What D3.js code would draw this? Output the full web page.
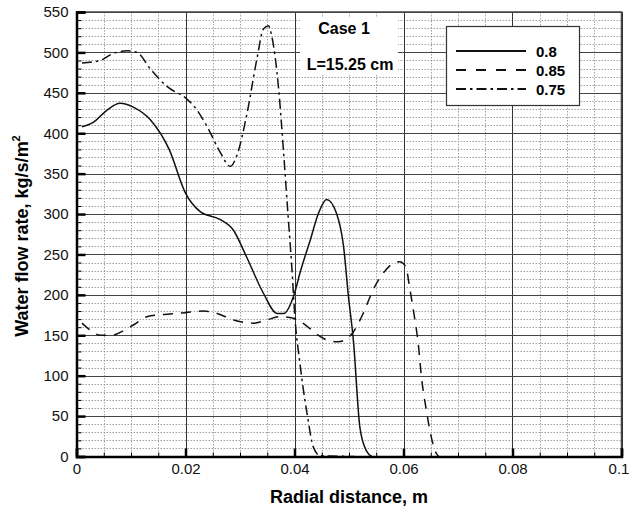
<!DOCTYPE html>
<html>
<head>
<meta charset="utf-8">
<script src="https://cdn.jsdelivr.net/npm/d3@7"></script>
<style>
  body { margin: 0; background: #fff; }
  svg { display: block; font-family: "Liberation Sans", Arial, sans-serif; }
</style>
</head>
<body>
<svg id="chart" width="630" height="509"></svg>
<script>
"use strict";
// radial distance (m) / water flow rate (kg/s/m2) for each case
var x08 = [0.001, 0.003, 0.0055, 0.008, 0.0105, 0.0135, 0.017, 0.02, 0.0227, 0.0264, 0.0288, 0.031, 0.0343, 0.0368, 0.038, 0.04, 0.041, 0.0429, 0.0444, 0.0459, 0.0477, 0.049, 0.0499, 0.0508, 0.052, 0.0532, 0.0542];
var y08 = [408, 413, 428, 437, 432, 417, 380, 326, 303, 293, 280, 250, 202, 177, 177, 202, 227, 268, 301, 318, 301, 260, 198, 144, 36, 7, 0];

var x085 = [0.001, 0.0026, 0.0044, 0.0065, 0.0087, 0.0105, 0.0129, 0.0166, 0.02, 0.0233, 0.0258, 0.0288, 0.0325, 0.0349, 0.0374, 0.0398, 0.0429, 0.0444, 0.0465, 0.048, 0.0503, 0.0526, 0.0544, 0.0563, 0.0581, 0.0593, 0.0604, 0.0612, 0.062, 0.0627, 0.0633, 0.0642, 0.0651, 0.066, 0.0665];
var y085 = [165, 156, 150, 150, 156, 163, 173, 176, 178, 180, 177, 169, 165, 169, 173, 171, 158, 150, 143, 142, 150, 177, 206, 227, 239, 241, 235, 206, 173, 140, 98, 57, 24, 4, 0];

var x075 = [0.001, 0.0044, 0.0062, 0.0093, 0.0111, 0.0136, 0.0166, 0.0203, 0.0215, 0.0239, 0.0264, 0.0282, 0.0294, 0.0313, 0.0331, 0.0343, 0.0352, 0.0358, 0.0371, 0.038, 0.0388, 0.0395, 0.0401, 0.041, 0.0423, 0.0435, 0.0447, 0.051];
var y075 = [487, 490, 497, 502, 500, 479, 458, 442, 434, 409, 376, 359, 372, 425, 492, 529, 533, 521, 454, 376, 300, 235, 170, 115, 53, 11, 1, 0];

var seriesNames = ["0.8", "0.85", "0.75"];
var xTicks = [0, 0.02, 0.04, 0.06, 0.08, 0.1];
var xTickLabels = ["0", "0.02", "0.04", "0.06", "0.08", "0.1"];
var yTicks = [0, 50, 100, 150, 200, 250, 300, 350, 400, 450, 500, 550];

document.addEventListener("DOMContentLoaded", function () {
    var left = 76.5, right = 621.5, top = 12, bottom = 456.5;
    var svg = d3.select("#chart");

    var x = d3.scaleLinear().domain([0, 0.1]).range([left, right]);
    var y = d3.scaleLinear().domain([0, 550]).range([bottom, top]);

    var xMinor = d3.range(0, 21).map(function (i) { return i * 0.005; });
    var yMinor = d3.range(0, 56).map(function (i) { return i * 10; });

    var grid = svg.append("g");
    // dotted minor grid
    grid.selectAll(".mx").data(xMinor).enter().append("line")
        .attr("x1", function (d) { return Math.round(x(d)) + 0.5; })
        .attr("x2", function (d) { return Math.round(x(d)) + 0.5; })
        .attr("y1", top).attr("y2", bottom)
        .attr("stroke", "#8a8a8a").attr("stroke-width", 0.8)
        .attr("stroke-dasharray", "1.5,1.5");
    grid.selectAll(".my").data(yMinor).enter().append("line")
        .attr("y1", function (d) { return Math.round(y(d)) + 0.5; })
        .attr("y2", function (d) { return Math.round(y(d)) + 0.5; })
        .attr("x1", left).attr("x2", right)
        .attr("stroke", "#8a8a8a").attr("stroke-width", 0.8)
        .attr("stroke-dasharray", "1.5,1.5");
    // solid major grid
    grid.selectAll(".Mx").data(xTicks).enter().append("line")
        .attr("x1", function (d) { return Math.round(x(d)) + 0.5; })
        .attr("x2", function (d) { return Math.round(x(d)) + 0.5; })
        .attr("y1", top).attr("y2", bottom)
        .attr("stroke", "#333").attr("stroke-width", 1);
    grid.selectAll(".My").data(yTicks).enter().append("line")
        .attr("y1", function (d) { return Math.round(y(d)) + 0.5; })
        .attr("y2", function (d) { return Math.round(y(d)) + 0.5; })
        .attr("x1", left).attr("x2", right)
        .attr("stroke", "#444").attr("stroke-width", 1.2);

    // frame top/right
    svg.append("path")
        .attr("d", "M" + left + "," + top + "H" + right + "V" + bottom)
        .attr("fill", "none").attr("stroke", "#444").attr("stroke-width", 1.5);

    var line = d3.line()
        .x(function (d) { return x(d[0]); })
        .y(function (d) { return y(d[1]); })
        .curve(d3.curveMonotoneX);

    var dashes = ["none", "10,8", "10,4,2.5,4"];
    var series = [d3.zip(x08, y08), d3.zip(x085, y085), d3.zip(x075, y075)];

    svg.selectAll(".curve").data(series).enter().append("path")
        .attr("class", "curve")
        .attr("d", line)
        .attr("fill", "none")
        .attr("stroke", "#111")
        .attr("stroke-width", 1.5)
        .attr("stroke-dasharray", function (d, i) { return dashes[i]; });

    // axes
    var xAxis = svg.append("g").attr("transform", "translate(0," + bottom + ")")
        .call(d3.axisBottom(x).tickValues(xTicks)
            .tickFormat(function (d, i) { return xTickLabels[i]; })
            .tickSize(-8).tickPadding(7));
    svg.append("g").attr("transform", "translate(0," + bottom + ")")
        .call(d3.axisBottom(x).tickValues(xMinor).tickFormat("").tickSize(-4))
        .call(function (g) { g.select(".domain").remove(); });
    var yAxis = svg.append("g").attr("transform", "translate(" + left + ",0)")
        .call(d3.axisLeft(y).tickValues(yTicks).tickSize(-9).tickPadding(8));
    svg.append("g").attr("transform", "translate(" + left + ",0)")
        .call(d3.axisLeft(y).tickValues(yMinor).tickFormat("").tickSize(-5))
        .call(function (g) { g.select(".domain").remove(); });

    svg.selectAll(".domain").attr("stroke", "#000").attr("stroke-width", 2.5);
    xAxis.selectAll(".tick line").attr("stroke", "#000").attr("stroke-width", 2.5);
    yAxis.selectAll(".tick line").attr("stroke", "#000").attr("stroke-width", 2.5);
    svg.selectAll(".tick text")
        .attr("font-family", "Liberation Sans, Arial, sans-serif")
        .attr("font-size", 15).attr("fill", "#111");
    // last label sits on the window edge, keep it inside
    xAxis.selectAll(".tick text").filter(function (d) { return d === 0.1; })
        .attr("dx", -3);

    // axis titles
    svg.append("text")
        .attr("x", 349).attr("y", 503)
        .attr("text-anchor", "middle")
        .attr("font-size", 18).attr("font-weight", "bold")
        .text("Radial distance, m");
    var yt = svg.append("text")
        .attr("transform", "translate(28,236) rotate(-90)")
        .attr("text-anchor", "middle")
        .attr("font-size", 18).attr("font-weight", "bold");
    yt.append("tspan").text("Water flow rate, kg/s/m");
    yt.append("tspan").attr("font-size", 11).attr("dy", -8).text("2");

    // case annotation
    svg.append("rect")
        .attr("x", 300).attr("y", 17).attr("width", 98).attr("height", 58)
        .attr("fill", "#fff");
    svg.append("text")
        .attr("x", 344).attr("y", 34)
        .attr("text-anchor", "middle")
        .attr("font-size", 16).attr("font-weight", "bold")
        .text("Case 1");
    svg.append("text")
        .attr("x", 350).attr("y", 70)
        .attr("text-anchor", "middle")
        .attr("font-size", 16).attr("font-weight", "bold")
        .text("L=15.25 cm");

    // legend
    var lg = svg.append("g");
    lg.append("rect")
        .attr("x", 446.5).attr("y", 26.5).attr("width", 133).attr("height", 79)
        .attr("fill", "#fff").attr("stroke", "#333").attr("stroke-width", 1.2);
    var ly = [51, 70, 89];
    lg.selectAll(".ll").data(seriesNames).enter().append("line")
        .attr("x1", 456).attr("x2", 526)
        .attr("y1", function (d, i) { return ly[i]; })
        .attr("y2", function (d, i) { return ly[i]; })
        .attr("stroke", "#111").attr("stroke-width", 2)
        .attr("stroke-dasharray", function (d, i) { return i === 1 ? "10,10" : dashes[i]; });
    lg.selectAll(".lt").data(seriesNames).enter().append("text")
        .attr("x", 536)
        .attr("y", function (d, i) { return ly[i] + 5.5; })
        .attr("font-size", 15).attr("font-weight", "bold")
        .text(function (d) { return d; });
});
</script>
</body>
</html>
